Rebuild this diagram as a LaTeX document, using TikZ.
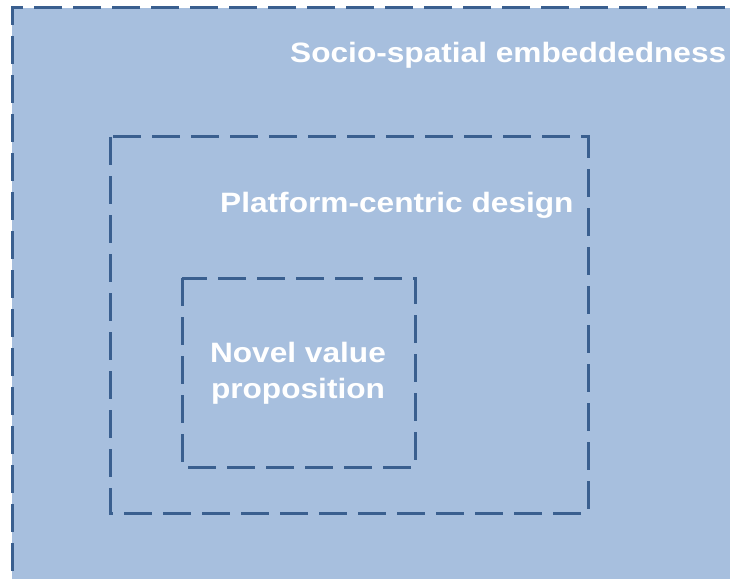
\documentclass[tikz,border=0pt]{standalone}
\usepackage{fontspec}
\usepackage{graphicx}
\setmainfont{Liberation Sans}
\definecolor{layerfill}{RGB}{167,191,222}
\definecolor{layerline}{RGB}{58,95,143}
\newcommand{\widetext}[1]{\scalebox{1.13}[1]{#1}}
\tikzset{
  layer/.style={draw=layerline, line width=3bp, dash pattern=on 28bp off 11bp},
  layerlabel/.style={text=white, font=\bfseries\fontsize{28bp}{36bp}\selectfont, inner sep=0pt},
}
\begin{document}
\begin{tikzpicture}[x=1bp,y=-1bp]
  \useasboundingbox (0,0) rectangle (730,579);
  \clip (0,0) rectangle (730,579);
  % outermost layer, running past the page edge
  \fill[layerfill] (12,8) rectangle (760,610);
  \draw[layer] (12,610) -- (12,8) -- (760,8);
  \node[layerlabel, anchor=base west] (outer) at (290,63) {\widetext{Socio-spatial embeddedness}};
  % middle layer
  \draw[layer] (110,137) rectangle (588,513);
  \node[layerlabel, anchor=base west] (middle) at (220,213) {\widetext{Platform-centric design}};
  % core layer
  \draw[layer] (182,278) rectangle (415,467);
  \node[layerlabel, anchor=base, align=center] (core) at (298,398) {\widetext{Novel value}\\\widetext{proposition}};
\end{tikzpicture}
\end{document}
